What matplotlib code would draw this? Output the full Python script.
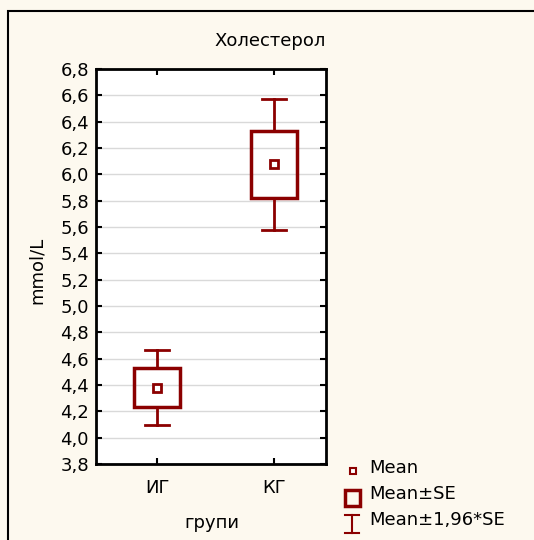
import matplotlib.pyplot as plt
import numpy as np
from matplotlib.patches import Rectangle
from matplotlib.lines import Line2D

plt.rcParams['font.family'] = ['DejaVu Sans']

groups = ['ИГ', 'КГ']
means = [4.38, 6.077]
se = [0.146, 0.254]
yticks = np.arange(3.8, 6.81, 0.2)

dark_red = '#8b0000'
bg = '#fdf9ef'
fs = 13

W, H = 534, 540
fig = plt.figure(figsize=(W / 100, H / 100), dpi=100)
fig.patch.set_facecolor(bg)

# outer frame
fig.add_artist(Rectangle((8 / W, -0.1), 1.2, 1 - 11 / H + 0.1,
                         transform=fig.transFigure, fill=False,
                         edgecolor='black', linewidth=1.5))

ax = fig.add_axes([96 / W, 1 - 464 / H, 230 / W, 395 / H])
ax.set_facecolor('white')

x = np.arange(1, len(groups) + 1)
box_w = 0.4
cap_w = 0.2
for xi, m, s in zip(x, means, se):
    lo, hi = m - 1.96 * s, m + 1.96 * s
    ax.plot([xi, xi], [lo, m - s], color=dark_red, lw=2, zorder=3)
    ax.plot([xi, xi], [m + s, hi], color=dark_red, lw=2, zorder=3)
    ax.plot([xi - cap_w / 2, xi + cap_w / 2], [lo, lo], color=dark_red, lw=2, zorder=3)
    ax.plot([xi - cap_w / 2, xi + cap_w / 2], [hi, hi], color=dark_red, lw=2, zorder=3)
    ax.add_patch(Rectangle((xi - box_w / 2, m - s), box_w, 2 * s, fill=False,
                           edgecolor=dark_red, lw=2.5, zorder=3))
    ax.plot([xi], [m], marker='s', ms=6, mfc='white', mec=dark_red, mew=2, zorder=4)

ax.set_xlim(0.479, 2.444)
ax.set_ylim(3.8, 6.8)
ax.set_xticks(x)
ax.set_xticklabels(groups)
ax.set_yticks(yticks)
ax.set_yticklabels([f'{v:.1f}'.replace('.', ',') for v in yticks])
ax.grid(axis='y', color='#d9d9d9', lw=1)
ax.set_axisbelow(True)
ax.tick_params(direction='in', length=4, width=1.5, labelsize=fs,
               top=True, right=True, pad=5, colors='black')
ax.tick_params(axis='x', pad=11)
for sp in ax.spines.values():
    sp.set_linewidth(2)

fig.text(270 / W, 1 - 41 / H, 'Холестерол', ha='center', va='center', fontsize=fs)
fig.text(37 / W, 1 - 270 / H, 'mmol/L', ha='center', va='center',
         rotation=90, fontsize=fs)
fig.text(212 / W, 1 - 523 / H, 'групи', ha='center', va='center', fontsize=fs)

# legend
tf = fig.transFigure
def fx(px):
    return px / W
def fy(py):
    return 1 - py / H

fig.add_artist(Line2D([fx(353)], [fy(471)], marker='s', ms=5, mfc='white',
                      mec=dark_red, mew=1.5, transform=tf))
fig.add_artist(Rectangle((fx(345), fy(506)), 15 / W, 16 / H, fill=False,
                         edgecolor=dark_red, lw=2.5, transform=tf))
fig.add_artist(Line2D([fx(352), fx(352)], [fy(515), fy(533)], color=dark_red,
                      lw=1.5, transform=tf))
for yy in (515, 533):
    fig.add_artist(Line2D([fx(345), fx(359)], [fy(yy), fy(yy)], color=dark_red,
                          lw=1.5, transform=tf))
for yy, label in zip((468, 494, 520), ['Mean', 'Mean±SE', 'Mean±1,96*SE']):
    fig.text(fx(369), fy(yy), label, ha='left', va='center', fontsize=fs)

fig.savefig('out.png', dpi=100, facecolor=bg)
